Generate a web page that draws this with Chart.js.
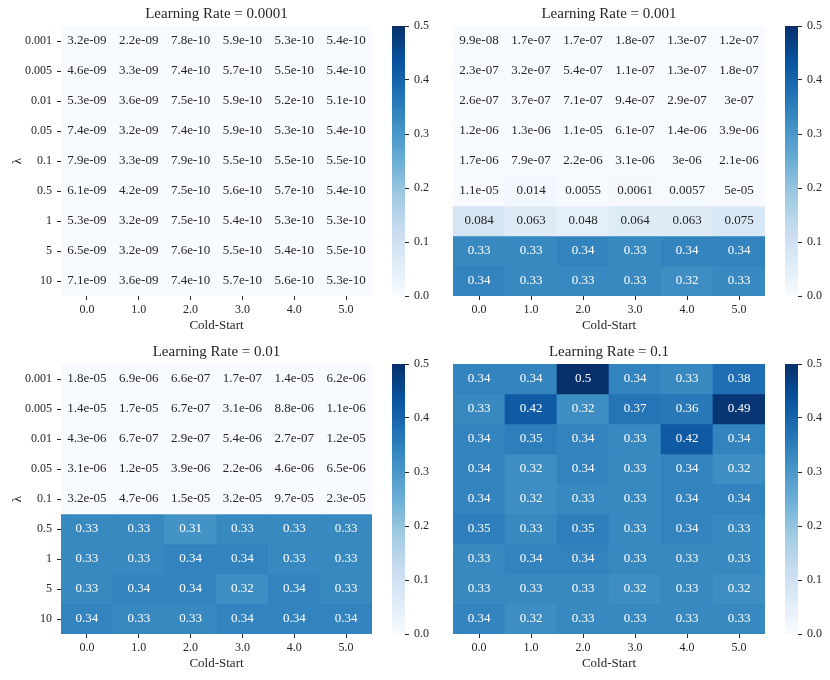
<!DOCTYPE html>
<html>
<head>
<meta charset="utf-8">
<script src="https://cdn.jsdelivr.net/npm/chart.js@4/dist/chart.umd.min.js"></script>
<style>
  html, body { margin: 0; padding: 0; background: #ffffff; }
  #wrap { position: relative; width: 830px; height: 680px; background: #ffffff; }
  canvas { position: absolute; }
</style>
</head>
<body>
<div id="wrap">
  <canvas id="h1" width="380" height="338" style="left:0px;top:0px"></canvas>
  <canvas id="c1" width="50" height="338" style="left:385px;top:0px"></canvas>
  <canvas id="h2" width="360" height="338" style="left:410px;top:0px"></canvas>
  <canvas id="c2" width="52" height="338" style="left:778px;top:0px"></canvas>
  <canvas id="h3" width="380" height="338" style="left:0px;top:338px"></canvas>
  <canvas id="c3" width="50" height="338" style="left:385px;top:338px"></canvas>
  <canvas id="h4" width="360" height="338" style="left:410px;top:338px"></canvas>
  <canvas id="c4" width="52" height="338" style="left:778px;top:338px"></canvas>
</div>
<script>
// ---------------- data ----------------
const lambdaLabels = ['0.001', '0.005', '0.01', '0.05', '0.1', '0.5', '1', '5', '10'];
const coldStartLabels = ['0.0', '1.0', '2.0', '3.0', '4.0', '5.0'];
const colorbarTicks = [0.0, 0.1, 0.2, 0.3, 0.4, 0.5];
const panelTitles = ['Learning Rate = 0.0001', 'Learning Rate = 0.001', 'Learning Rate = 0.01', 'Learning Rate = 0.1'];

const lr0001 = [
  [3.2e-09, 2.2e-09, 7.8e-10, 5.9e-10, 5.3e-10, 5.4e-10],
  [4.6e-09, 3.3e-09, 7.4e-10, 5.7e-10, 5.5e-10, 5.4e-10],
  [5.3e-09, 3.6e-09, 7.5e-10, 5.9e-10, 5.2e-10, 5.1e-10],
  [7.4e-09, 3.2e-09, 7.4e-10, 5.9e-10, 5.3e-10, 5.4e-10],
  [7.9e-09, 3.3e-09, 7.9e-10, 5.5e-10, 5.5e-10, 5.5e-10],
  [6.1e-09, 4.2e-09, 7.5e-10, 5.6e-10, 5.7e-10, 5.4e-10],
  [5.3e-09, 3.2e-09, 7.5e-10, 5.4e-10, 5.3e-10, 5.3e-10],
  [6.5e-09, 3.2e-09, 7.6e-10, 5.5e-10, 5.4e-10, 5.5e-10],
  [7.1e-09, 3.6e-09, 7.4e-10, 5.7e-10, 5.6e-10, 5.3e-10]
];
const lr001 = [
  [9.9e-08, 1.7e-07, 1.7e-07, 1.8e-07, 1.3e-07, 1.2e-07],
  [2.3e-07, 3.2e-07, 5.4e-07, 1.1e-07, 1.3e-07, 1.8e-07],
  [2.6e-07, 3.7e-07, 7.1e-07, 9.4e-07, 2.9e-07, 3e-07],
  [1.2e-06, 1.3e-06, 1.1e-05, 6.1e-07, 1.4e-06, 3.9e-06],
  [1.7e-06, 7.9e-07, 2.2e-06, 3.1e-06, 3e-06, 2.1e-06],
  [1.1e-05, 0.014, 0.0055, 0.0061, 0.0057, 5e-05],
  [0.084, 0.063, 0.048, 0.064, 0.063, 0.075],
  [0.33, 0.33, 0.34, 0.33, 0.34, 0.34],
  [0.34, 0.33, 0.33, 0.33, 0.32, 0.33]
];
const lr01 = [
  [1.8e-05, 6.9e-06, 6.6e-07, 1.7e-07, 1.4e-05, 6.2e-06],
  [1.4e-05, 1.7e-05, 6.7e-07, 3.1e-06, 8.8e-06, 1.1e-06],
  [4.3e-06, 6.7e-07, 2.9e-07, 5.4e-06, 2.7e-07, 1.2e-05],
  [3.1e-06, 1.2e-05, 3.9e-06, 2.2e-06, 4.6e-06, 6.5e-06],
  [3.2e-05, 4.7e-06, 1.5e-05, 3.2e-05, 9.7e-05, 2.3e-05],
  [0.33, 0.33, 0.31, 0.33, 0.33, 0.33],
  [0.33, 0.33, 0.34, 0.34, 0.33, 0.33],
  [0.33, 0.34, 0.34, 0.32, 0.34, 0.33],
  [0.34, 0.33, 0.33, 0.34, 0.34, 0.34]
];
const lr1 = [
  [0.34, 0.34, 0.5, 0.34, 0.33, 0.38],
  [0.33, 0.42, 0.32, 0.37, 0.36, 0.49],
  [0.34, 0.35, 0.34, 0.33, 0.42, 0.34],
  [0.34, 0.32, 0.34, 0.33, 0.34, 0.32],
  [0.34, 0.32, 0.33, 0.33, 0.34, 0.34],
  [0.35, 0.33, 0.35, 0.33, 0.34, 0.33],
  [0.33, 0.34, 0.34, 0.33, 0.33, 0.33],
  [0.33, 0.33, 0.33, 0.32, 0.33, 0.32],
  [0.34, 0.32, 0.33, 0.33, 0.33, 0.33]
];
const vMin = 0.0;
const vMax = 0.5;

// ---------------- styling helpers ----------------
const FONT = "'Liberation Serif', 'DejaVu Serif', serif";
const TEXT = '#262626';
Chart.defaults.font.family = FONT;
Chart.defaults.color = TEXT;

const bluesStops = [
  [247, 251, 255], [222, 235, 247], [198, 219, 239], [158, 202, 225],
  [107, 174, 214], [66, 146, 198], [33, 113, 181], [8, 81, 156], [8, 48, 107]
];
function bluesRGB(t) {
  t = Math.max(0, Math.min(1, t));
  const p = t * (bluesStops.length - 1);
  const i = Math.min(bluesStops.length - 2, Math.floor(p));
  const f = p - i;
  const a = bluesStops[i], b = bluesStops[i + 1];
  return [0, 1, 2].map(k => Math.round(a[k] + (b[k] - a[k]) * f));
}
function rgbStr(c) { return 'rgb(' + c[0] + ',' + c[1] + ',' + c[2] + ')'; }
function luminance(c) {
  const lin = c.map(v => { v /= 255; return v <= 0.03928 ? v / 12.92 : Math.pow((v + 0.055) / 1.055, 2.4); });
  return 0.2126 * lin[0] + 0.7152 * lin[1] + 0.0722 * lin[2];
}
function fmt2g(v) {
  if (v === 0) return '0';
  let e = Math.floor(Math.log10(Math.abs(v)));
  let m = v / Math.pow(10, e);
  m = Math.round(m * 10) / 10;
  if (m >= 10) { m /= 10; e += 1; }
  if (e < -4 || e >= 2) {
    let ms = m.toFixed(1).replace(/\.0$/, '');
    const es = (e < 0 ? '-' : '+') + String(Math.abs(e)).padStart(2, '0');
    return ms + 'e' + es;
  }
  const dec = Math.max(0, 1 - e);
  let s = v.toFixed(dec);
  if (s.indexOf('.') >= 0) s = s.replace(/0+$/, '').replace(/\.$/, '');
  return s;
}

// plugin: cell annotations + panel title
const annotPlugin = {
  id: 'annot',
  afterDatasetsDraw(chart) {
    const ctx = chart.ctx;
    ctx.save();
    ctx.font = "13px " + FONT;
    ctx.textAlign = 'center';
    ctx.textBaseline = 'middle';
    chart.data.datasets.forEach((ds, di) => {
      const meta = chart.getDatasetMeta(di);
      meta.data.forEach((el, i) => {
        const v = ds.values[i];
        const c = bluesRGB((v - vMin) / (vMax - vMin));
        ctx.fillStyle = luminance(c) > 0.408 ? TEXT : '#ffffff';
        ctx.fillText(fmt2g(v), el.x, (el.y + el.base) / 2);
      });
    });
    const title = chart.options.plugins.annot.title;
    const a = chart.chartArea;
    ctx.font = "15px " + FONT;
    ctx.fillStyle = TEXT;
    ctx.fillText(title, (a.left + a.right) / 2, 14);
    ctx.restore();
  }
};

function makeHeatmap(id, matrix, title, showY) {
  const datasets = matrix.map((row, r) => ({
    label: lambdaLabels[r],
    data: row.map(() => 1),
    values: row,
    backgroundColor: row.map(v => rgbStr(bluesRGB((v - vMin) / (vMax - vMin)))),
    borderWidth: 0,
    barPercentage: 1,
    categoryPercentage: 1,
    stack: 'grid'
  }));
  const yScale = {
    type: 'linear', stacked: true, reverse: true, min: 0, max: lambdaLabels.length,
    display: showY,
    afterBuildTicks: s => { s.ticks = lambdaLabels.map((_, i) => ({ value: i + 0.5 })); },
    grid: { drawOnChartArea: false, drawTicks: true, tickLength: 4, color: TEXT },
    border: { display: false },
    ticks: { padding: 5, font: { size: 12 }, color: TEXT, autoSkip: false, callback: (v, i) => lambdaLabels[i] },
    title: { display: true, text: 'λ', font: { size: 13 }, color: TEXT, padding: { top: 10, bottom: 0 } }
  };
  if (showY) yScale.afterFit = s => { s.width = 61; };
  return new Chart(document.getElementById(id), {
    type: 'bar',
    data: { labels: coldStartLabels, datasets },
    plugins: [annotPlugin],
    options: {
      responsive: false,
      animation: false,
      events: [],
      layout: { padding: showY ? { top: 26, right: 8, left: 0, bottom: 0 } : { top: 26, right: 5, left: 43, bottom: 0 } },
      plugins: { legend: { display: false }, tooltip: { enabled: false }, annot: { title } },
      scales: {
        x: {
          type: 'category', stacked: true, offset: true,
          grid: { offset: false, drawOnChartArea: false, drawTicks: true, tickLength: 4, color: TEXT, tickWidth: 1 },
          border: { display: false },
          ticks: { padding: 3, font: { size: 12 }, color: TEXT, maxRotation: 0, autoSkip: false },
          title: { display: true, text: 'Cold-Start', font: { size: 13 }, color: TEXT, padding: { top: 0, bottom: 5 } },
          afterFit: s => { s.height = 42; }
        },
        y: yScale
      }
    }
  });
}

function makeColorbar(id, width) {
  return new Chart(document.getElementById(id), {
    type: 'bar',
    data: {
      labels: [''],
      datasets: [{
        data: [[vMin, vMax]],
        borderWidth: 0,
        barPercentage: 1,
        categoryPercentage: 1,
        backgroundColor: (c) => {
          const chart = c.chart;
          const ys = chart.scales.y;
          const fallback = rgbStr(bluesStops[4]);
          if (!ys || !chart.chartArea) return fallback;
          const p0 = ys.getPixelForValue(vMin), p1 = ys.getPixelForValue(vMax);
          if (!isFinite(p0) || !isFinite(p1)) return fallback;
          const g = chart.ctx.createLinearGradient(0, p0, 0, p1);
          bluesStops.forEach((s, i) => g.addColorStop(i / (bluesStops.length - 1), rgbStr(s)));
          return g;
        }
      }]
    },
    options: {
      responsive: false,
      animation: false,
      events: [],
      layout: { padding: { top: 26, bottom: 42, left: 7, right: 0 } },
      plugins: { legend: { display: false }, tooltip: { enabled: false } },
      scales: {
        x: { display: false },
        y: {
          position: 'right', min: vMin, max: vMax,
          afterBuildTicks: s => { s.ticks = colorbarTicks.map(v => ({ value: v })); },
          grid: { drawOnChartArea: false, drawTicks: true, tickLength: 4, color: TEXT },
          border: { display: false },
          ticks: { padding: 5, font: { size: 12 }, color: TEXT, callback: v => Number(v).toFixed(1) },
          afterFit: s => { s.width = width - 20; }
        }
      }
    }
  });
}

makeHeatmap('h1', lr0001, panelTitles[0], true);
makeHeatmap('h2', lr001, panelTitles[1], false);
makeHeatmap('h3', lr01, panelTitles[2], true);
makeHeatmap('h4', lr1, panelTitles[3], false);
makeColorbar('c1', 50);
makeColorbar('c2', 52);
makeColorbar('c3', 50);
makeColorbar('c4', 52);
</script>
</body>
</html>
